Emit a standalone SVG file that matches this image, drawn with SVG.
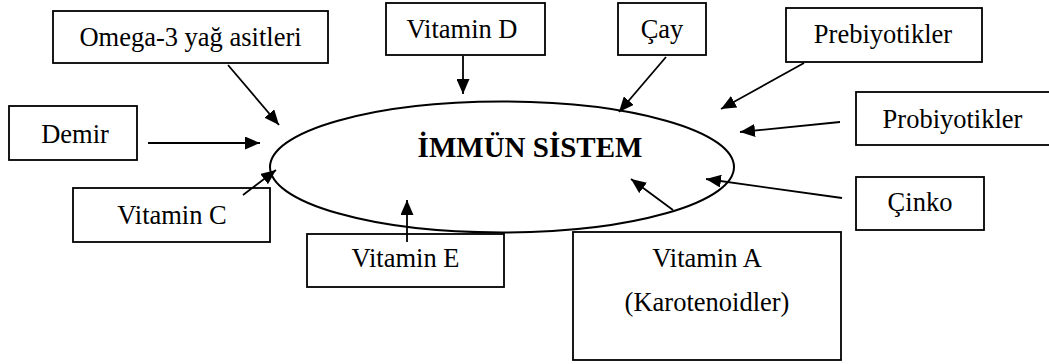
<svg xmlns="http://www.w3.org/2000/svg" width="1049" height="364" viewBox="0 0 1049 364">
<style>
.box{fill:#fff;stroke:#000;stroke-width:1.8}
.lbl{font-family:"Liberation Serif","Times New Roman",serif;font-size:26.5px;fill:#000;text-anchor:middle}
.title{font-family:"Liberation Serif","Times New Roman",serif;font-size:29px;font-weight:bold;fill:#000;text-anchor:middle}
.con line{stroke:#000;stroke-width:1.8;marker-end:url(#ah)}
</style>
<defs>
<marker id="ah" markerUnits="userSpaceOnUse" markerWidth="16" markerHeight="13" refX="15" refY="6.5" orient="auto">
<path d="M0,0 L15,6.5 L0,13 z" fill="#000"/>
</marker>
</defs>
<rect width="1049" height="364" fill="#fff"/>
<g id="immun">
<ellipse cx="502" cy="167" rx="232" ry="65.5" fill="none" stroke="#000" stroke-width="2"/>
<text class="title" x="530" y="157">İMMÜN SİSTEM</text>
</g>
<g id="omega"><rect class="box" x="53" y="11" width="275" height="52"/><text class="lbl" x="190.5" y="46">Omega-3 yağ asitleri</text></g>
<g id="demir"><rect class="box" x="9" y="106" width="128" height="54"/><text class="lbl" x="75" y="143">Demir</text></g>
<g id="vitd"><rect class="box" x="386" y="3" width="159" height="52"/><text class="lbl" x="462" y="38">Vitamin D</text></g>
<g id="cay"><rect class="box" x="618" y="3" width="88" height="52"/><text class="lbl" x="662" y="38">Çay</text></g>
<g id="prebiyotik"><rect class="box" x="786" y="8" width="196" height="54"/><text class="lbl" x="883" y="43">Prebiyotikler</text></g>
<g id="probiyotik"><rect class="box" x="856" y="92" width="195" height="53"/><text class="lbl" x="952.5" y="128">Probiyotikler</text></g>
<g id="cinko"><rect class="box" x="856" y="177" width="128" height="53"/><text class="lbl" x="920" y="211">Çinko</text></g>
<g id="vitc"><rect class="box" x="73" y="188" width="197" height="54"/><text class="lbl" x="172" y="224">Vitamin C</text></g>
<g id="vite"><rect class="box" x="307" y="234" width="197" height="53"/><text class="lbl" x="405.5" y="267">Vitamin E</text></g>
<g id="vita"><rect class="box" x="573" y="232" width="268" height="128"/><text class="lbl" x="707" y="267">Vitamin A</text><text class="lbl" x="707" y="311">(Karotenoidler)</text></g>
<g id="connectors" class="con">
<line x1="228" y1="65" x2="279" y2="125"/>
<line x1="148" y1="143" x2="260" y2="143"/>
<line x1="463" y1="56" x2="463" y2="94"/>
<line x1="666" y1="57" x2="619" y2="112"/>
<line x1="804" y1="63" x2="721" y2="109"/>
<line x1="840" y1="122" x2="740" y2="132"/>
<line x1="842" y1="198" x2="706" y2="179"/>
<line x1="673" y1="210" x2="631" y2="179"/>
<line x1="407" y1="242" x2="407" y2="200"/>
<line x1="243" y1="195" x2="276" y2="170"/>
</g>
</svg>
